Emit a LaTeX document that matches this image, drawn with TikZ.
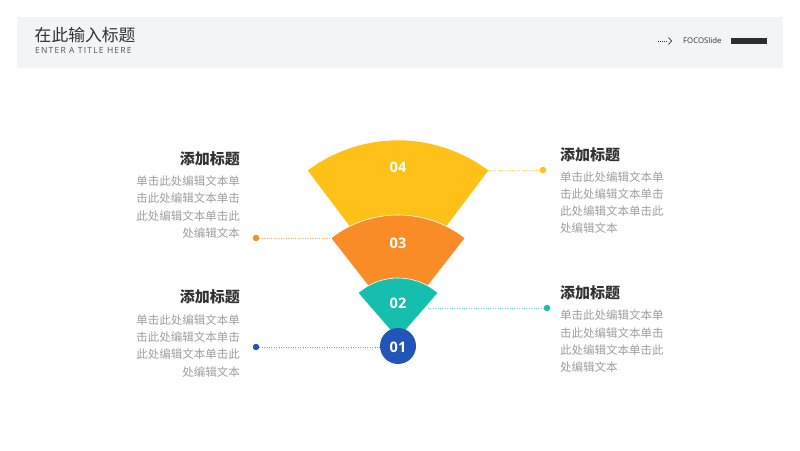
\documentclass[tikz,border=0pt]{standalone}
\usepackage{fontspec}
\newfontfamily\cjk{Noto Sans CJK SC}
\newfontfamily\numf{Open Sans}
\newfontfamily\hdrf[LetterSpace=14]{Open Sans}
\definecolor{hdrbg}{HTML}{F3F4F6}
\definecolor{ctitle}{HTML}{333333}
\definecolor{csub}{HTML}{555555}
\definecolor{cbody}{HTML}{9E9E9E}
\definecolor{cyel}{HTML}{FDC118}
\definecolor{corg}{HTML}{F98C26}
\definecolor{cteal}{HTML}{16BFAD}
\definecolor{cblue}{HTML}{2156B8}
\begin{document}
\begin{tikzpicture}[x=1pt,y=1pt,
  blocktitle/.style={font=\cjk\bfseries\fontsize{15}{15}\selectfont, text=ctitle, inner sep=0pt},
  bodyline/.style={font=\cjk\fontsize{11.5}{11.5}\selectfont, text=cbody, inner sep=0pt},
  numlabel/.style={font=\numf\bfseries\fontsize{14.5}{14.5}\selectfont, text=white, inner sep=0pt},
  sector/.style={draw=white, line width=0.6pt},
  leader/.style={line width=0.6pt, dash pattern=on 0.8pt off 1.6pt},
  enddot/.style={circle, inner sep=0pt, minimum size=6.5pt}
]
\useasboundingbox (0,0) rectangle (800,450);
\fill[white] (0,0) rectangle (800,450);
% header
\fill[hdrbg] (17,382) rectangle (783,433);
\node[anchor=base west, inner sep=0pt, font=\cjk\fontsize{16.8}{16.8}\selectfont, text=ctitle] (title) at (34.5,408.5) {在此输入标题};
\node[anchor=base west, inner sep=0pt, font=\hdrf\fontsize{8.5}{8.5}\selectfont, text=csub] (subtitle) at (35,396.7) {ENTER A TITLE HERE};
\draw[ctitle, line width=0.6pt, dash pattern=on 0.8pt off 1.2pt] (658,409) -- (667,409);
\draw[ctitle, line width=0.7pt] (668.5,412.5) -- (671.5,409) -- (668.5,405.5);
\node[anchor=base west, inner sep=0pt, font=\numf\fontsize{7.8}{7.8}\selectfont, text=ctitle] (brand) at (683,406.3) {FOCOSlide};
\fill[ctitle!90!black] (731,406) rectangle (767,412);

% sectors
\fill[cyel, sector] (398,159) -- ++(53:151) arc[start angle=53, end angle=127, radius=151] -- cycle;
\fill[corg, sector] (398,126) -- ++(52:109) arc[start angle=52, end angle=128, radius=109] -- cycle;
\fill[cteal, sector] (398,111) -- ++(49:61) arc[start angle=49, end angle=131, radius=61] -- cycle;
\fill[cblue] (398,104) circle (18);
\coordinate (s4r) at (488,280);
\coordinate (s3l) at (330,212);
\coordinate (s2r) at (428,142);
\coordinate (s1l) at (380,103);
\node[numlabel] (n4) at (398,283) {04};
\node[numlabel] (n3) at (398,207) {03};
\node[numlabel] (n2) at (398,147) {02};
\node[numlabel] (n1) at (398,103) {01};

% dots and leaders
\node[enddot, fill=cyel] (d4) at (543,280) {};
\node[enddot, fill=corg] (d3) at (256,212) {};
\node[enddot, fill=cteal] (d2) at (547,142) {};
\node[enddot, fill=cblue] (d1) at (256,103) {};
\draw[leader, cyel!70] (s4r) -- (d4);
\draw[leader, corg!70] (d3) -- (s3l);
\draw[leader, cteal!60] (s2r) -- (d2);
\draw[leader, cblue!60] (d1) -- (s1l);

% text blocks: left top
\node[blocktitle, anchor=base east] (t1) at (240,285.5) {添加标题};
\node[bodyline, anchor=base east] (l1a) at (240,264.5) {单击此处编辑文本单};
\node[bodyline, anchor=base east] (l1b) at (240,247) {击此处编辑文本单击};
\node[bodyline, anchor=base east] (l1c) at (240,229.8) {此处编辑文本单击此};
\node[bodyline, anchor=base east] (l1d) at (240,212.6) {处编辑文本};
% left bottom
\node[blocktitle, anchor=base east] (t2) at (240,147.5) {添加标题};
\node[bodyline, anchor=base east] (l2a) at (240,125.6) {单击此处编辑文本单};
\node[bodyline, anchor=base east] (l2b) at (240,108.4) {击此处编辑文本单击};
\node[bodyline, anchor=base east] (l2c) at (240,91.2) {此处编辑文本单击此};
\node[bodyline, anchor=base east] (l2d) at (240,74) {处编辑文本};
% right top
\node[blocktitle, anchor=base west] (t3) at (560,289.5) {添加标题};
\node[bodyline, anchor=base west] (l3a) at (560,268.3) {单击此处编辑文本单};
\node[bodyline, anchor=base west] (l3b) at (560,251.3) {击此处编辑文本单击};
\node[bodyline, anchor=base west] (l3c) at (560,234) {此处编辑文本单击此};
\node[bodyline, anchor=base west] (l3d) at (560,217.3) {处编辑文本};
% right bottom
\node[blocktitle, anchor=base west] (t4) at (560,151.5) {添加标题};
\node[bodyline, anchor=base west] (l4a) at (560,130.6) {单击此处编辑文本单};
\node[bodyline, anchor=base west] (l4b) at (560,112.6) {击此处编辑文本单击};
\node[bodyline, anchor=base west] (l4c) at (560,95.6) {此处编辑文本单击此};
\node[bodyline, anchor=base west] (l4d) at (560,78.6) {处编辑文本};
\end{tikzpicture}
\end{document}
